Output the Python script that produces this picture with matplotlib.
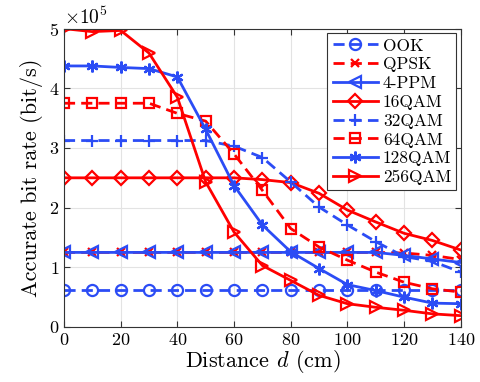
import matplotlib
matplotlib.use('Agg')
import matplotlib.pyplot as plt
from matplotlib.ticker import ScalarFormatter

plt.rcParams['font.family'] = 'cmr10'
plt.rcParams['mathtext.fontset'] = 'cm'
plt.rcParams['axes.formatter.use_mathtext'] = True
plt.rcParams['axes.unicode_minus'] = False

# distance (cm) and accurate bit rate (x1e5 bit/s)
dist = [0, 10, 20, 30, 40, 50, 60, 70, 80, 90, 100, 110, 120, 130, 140]
ook = [0.625, 0.625, 0.625, 0.625, 0.625, 0.625, 0.625, 0.625, 0.625, 0.625, 0.625, 0.625, 0.625, 0.625, 0.625]
qpsk = [1.25, 1.25, 1.25, 1.25, 1.25, 1.25, 1.25, 1.25, 1.25, 1.25, 1.25, 1.25, 1.24, 1.20, 1.13]
ppm4 = [1.25, 1.25, 1.25, 1.25, 1.25, 1.25, 1.25, 1.25, 1.25, 1.25, 1.25, 1.25, 1.20, 1.14, 1.08]
qam16 = [2.5, 2.5, 2.5, 2.5, 2.5, 2.5, 2.5, 2.47, 2.42, 2.24, 1.96, 1.76, 1.57, 1.45, 1.29]
qam32 = [3.125, 3.125, 3.125, 3.125, 3.125, 3.125, 3.03, 2.84, 2.43, 2.01, 1.71, 1.43, 1.18, 1.10, 0.92]
qam64 = [3.75, 3.75, 3.75, 3.75, 3.58, 3.45, 2.90, 2.29, 1.65, 1.34, 1.12, 0.92, 0.75, 0.64, 0.585]
qam128 = [4.375, 4.375, 4.35, 4.33, 4.19, 3.31, 2.37, 1.71, 1.26, 0.98, 0.71, 0.61, 0.50, 0.40, 0.39]
qam256 = [5.0, 4.95, 4.97, 4.59, 3.85, 2.43, 1.59, 1.03, 0.78, 0.53, 0.39, 0.33, 0.28, 0.22, 0.19]
scale = 1e5

blue = '#2b4cf5'
red = '#ff0000'
asterisk = (6, 2, 0)
series = [
    ('OOK', ook, blue, '--', 'o'),
    ('QPSK', qpsk, red, '--', 'x'),
    ('4-PPM', ppm4, blue, '-', '<'),
    ('16QAM', qam16, red, '-', 'D'),
    ('32QAM', qam32, blue, '--', '+'),
    ('64QAM', qam64, red, '--', 's'),
    ('128QAM', qam128, blue, '-', asterisk),
    ('256QAM', qam256, red, '-', '>'),
]

fig = plt.figure(figsize=(4.8, 3.82), dpi=100)
ax = fig.add_axes([0.1333, 0.144, 0.8267, 0.781])

for name, vals, col, ls, mk in series:
    ms = 8
    if mk in ('D', 's'):
        ms = 7
    if mk in ('+', asterisk):
        ms = 8.5
    if mk == 'x':
        ms = 6
    line, = ax.plot(dist, [v * scale for v in vals], color=col, linestyle=ls, lw=2,
                    marker=mk, ms=ms, mfc='none', mew=1.6, label=name)
    if ls == '--':
        line.set_dashes((4, 2.2))

ax.set_xlim(0, 140)
ax.set_ylim(0, 5e5)
ax.set_xticks(range(0, 141, 20))
ax.set_yticks([0, 1e5, 2e5, 3e5, 4e5, 5e5])
fmt = ScalarFormatter(useMathText=True)
fmt.set_powerlimits((0, 0))
ax.yaxis.set_major_formatter(fmt)
ax.grid(True, color='#e3e3e3', lw=0.8)
ax.set_axisbelow(True)
ax.tick_params(direction='in', top=True, right=True, labelsize=13, length=4, color='#333333')
ax.yaxis.get_offset_text().set_fontsize(14)
for s in ax.spines.values():
    s.set_color('#333333')
    s.set_linewidth(0.8)

ax.set_xlabel('Distance $d$ (cm)', fontsize=16, labelpad=0)
ax.set_ylabel('Accurate bit rate (bit/s)', fontsize=16, labelpad=4)

leg = ax.legend(loc='upper right', fontsize=12.5, handlelength=2.6, labelspacing=0.2,
                borderaxespad=0.25, borderpad=0.3, handletextpad=0.3, fancybox=False,
                framealpha=1, edgecolor='#333333')
leg.get_frame().set_linewidth(0.8)

plt.savefig('out.png', dpi=100)
plt.close()
